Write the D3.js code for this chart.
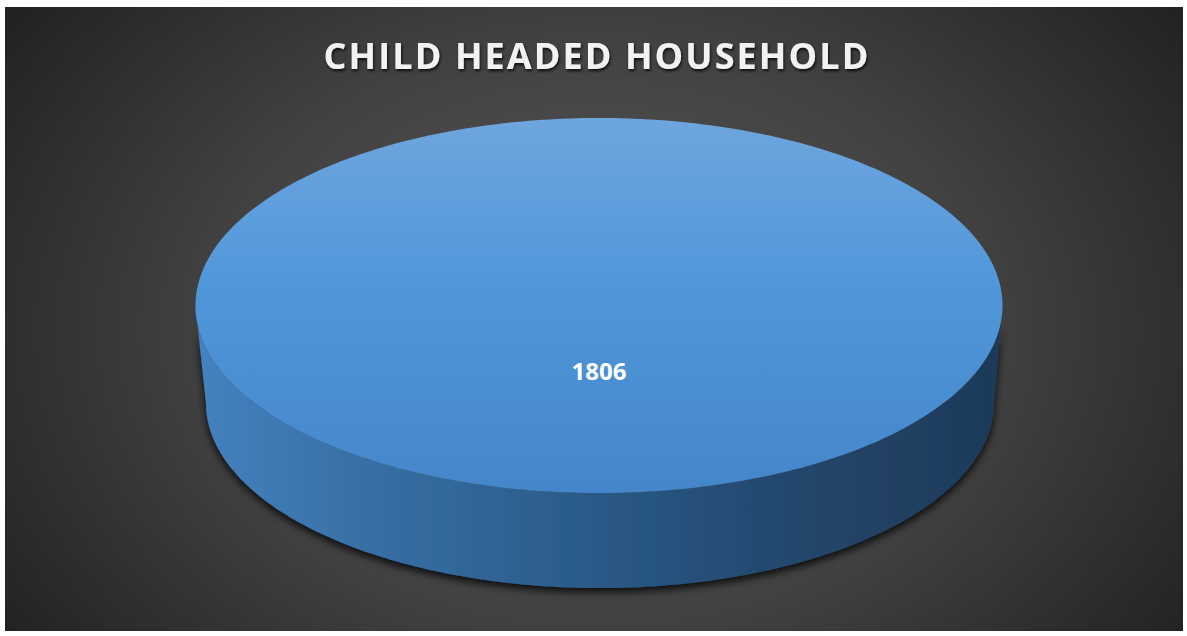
<!DOCTYPE html>
<html>
<head>
<meta charset="utf-8">
<script src="https://cdn.jsdelivr.net/npm/d3@7"></script>
<style>
  html, body { margin: 0; padding: 0; background: #ffffff; }
  svg { display: block; }
</style>
</head>
<body>
<svg id="chart" width="1187" height="636"></svg>
<script>
// Chart data
const title = "CHILD HEADED HOUSEHOLD";
const categories = ["Child headed household"];
const values = [1806];

const W = 1187, H = 636;
const svg = d3.select("#chart");
const defs = svg.append("defs");

// Background: dark radial gradient
const bg = defs.append("radialGradient").attr("id", "bgGrad")
  .attr("gradientUnits", "userSpaceOnUse")
  .attr("cx", 598).attr("cy", 330).attr("r", 720)
  .attr("gradientTransform", "translate(598,330) scale(1,0.75) translate(-598,-330)");
bg.append("stop").attr("offset", "0%").attr("stop-color", "#5a5a5a");
bg.append("stop").attr("offset", "55%").attr("stop-color", "#414141");
bg.append("stop").attr("offset", "100%").attr("stop-color", "#222222");

// Top face gradient
const topG = defs.append("linearGradient").attr("id", "topGrad")
  .attr("x1", 0).attr("y1", 0).attr("x2", 0).attr("y2", 1);
topG.append("stop").attr("offset", "0%").attr("stop-color", "#6ea6de");
topG.append("stop").attr("offset", "45%").attr("stop-color", "#5097da");
topG.append("stop").attr("offset", "100%").attr("stop-color", "#4486c9");

// Side wall gradient (lit from the left)
const sideG = defs.append("linearGradient").attr("id", "sideGrad")
  .attr("x1", 0).attr("y1", 0).attr("x2", 1).attr("y2", 0);
sideG.append("stop").attr("offset", "0%").attr("stop-color", "#4482c0");
sideG.append("stop").attr("offset", "20%").attr("stop-color", "#3870a6");
sideG.append("stop").attr("offset", "50%").attr("stop-color", "#2a5987");
sideG.append("stop").attr("offset", "75%").attr("stop-color", "#22466b");
sideG.append("stop").attr("offset", "100%").attr("stop-color", "#1e3a58");

// Soft shadow under the pie
const sh = defs.append("filter").attr("id", "pieShadow")
  .attr("x", "-10%").attr("y", "-10%").attr("width", "120%").attr("height", "130%");
sh.append("feDropShadow").attr("dx", 0).attr("dy", 4).attr("stdDeviation", 4)
  .attr("flood-color", "#000").attr("flood-opacity", 0.85);

// Title shadow
const tsh = defs.append("filter").attr("id", "titleShadow")
  .attr("x", "-5%").attr("y", "-30%").attr("width", "110%").attr("height", "160%");
tsh.append("feDropShadow").attr("dx", 1).attr("dy", 2).attr("stdDeviation", 1.6)
  .attr("flood-color", "#000").attr("flood-opacity", 0.8);

// Chart area
svg.append("rect").attr("x", 5).attr("y", 7).attr("width", 1178).attr("height", 624)
  .attr("fill", "url(#bgGrad)");

// Title
svg.append("text")
  .attr("x", 597).attr("y", 69)
  .attr("text-anchor", "middle")
  .attr("font-family", "'Open Sans', 'Noto Sans', sans-serif")
  .attr("font-weight", 700)
  .attr("font-size", 36)
  .attr("letter-spacing", 2.1)
  .attr("fill", "#f2f2f2")
  .attr("filter", "url(#titleShadow)")
  .text(title);

// 3D pie geometry: top ellipse and slightly smaller bottom ellipse
const topE = { cx: 599, cy: 305.5, rx: 403.5, ry: 187.5 };
const botE = { cx: 600, cy: 403, rx: 394, ry: 185 };

const pie = d3.pie().sort(null).value(d => d)(values);

// Angle -> point on an ellipse (0 at top, clockwise)
const pt = (e, a) => [e.cx + e.rx * Math.sin(a), e.cy - e.ry * Math.cos(a)];
const line = d3.line();
const sampleAngles = (a0, a1, n) => d3.range(n + 1).map(i => a0 + (a1 - a0) * i / n);

const pieG = svg.append("g");

pie.forEach(s => {
  const full = (s.endAngle - s.startAngle) >= 2 * Math.PI - 1e-6;
  // Visible front wall: angles between PI/2 and 3PI/2
  const f0 = Math.max(s.startAngle, Math.PI / 2);
  const f1 = Math.min(s.endAngle, 3 * Math.PI / 2);
  if (f1 > f0) {
    const topArc = sampleAngles(f0, f1, 200).map(a => pt(topE, a));
    const botArc = sampleAngles(f1, f0, 200).map(a => pt(botE, a));
    pieG.append("path")
      .attr("d", line(topArc.concat(botArc)) + "Z")
      .attr("fill", "url(#sideGrad)")
      .attr("filter", "url(#pieShadow)");
  }
  // Top face
  const arcPts = sampleAngles(s.startAngle, s.endAngle, 360).map(a => pt(topE, a));
  const pts = full ? arcPts : [[topE.cx, topE.cy]].concat(arcPts);
  pieG.append("path")
    .attr("d", line(pts) + "Z")
    .attr("fill", "url(#topGrad)");
});

// Data label
pie.forEach(s => {
  const mid = (s.startAngle + s.endAngle) / 2;
  const full = (s.endAngle - s.startAngle) >= 2 * Math.PI - 1e-6;
  const [lx, ly] = full ? [topE.cx, topE.cy + 74] : pt({ ...topE, rx: topE.rx * 0.6, ry: topE.ry * 0.6 }, mid);
  svg.append("text")
    .attr("x", lx).attr("y", ly)
    .attr("text-anchor", "middle")
    .attr("font-family", "'Open Sans', 'Noto Sans', sans-serif")
    .attr("font-weight", 700)
    .attr("font-size", 24)
    .attr("fill", "#ffffff")
    .text(s.data);
});
</script>
</body>
</html>
